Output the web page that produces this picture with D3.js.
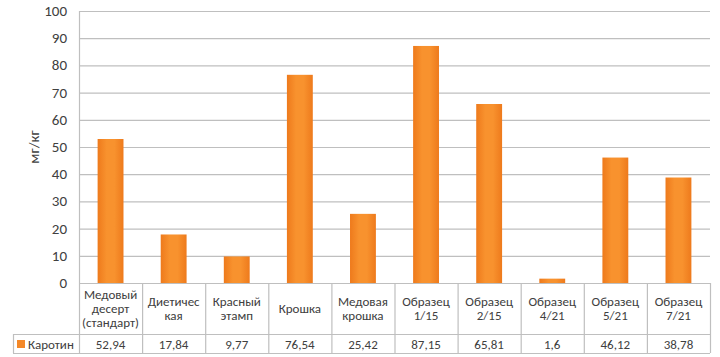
<!DOCTYPE html>
<html>
<head>
<meta charset="utf-8">
<script src="https://cdn.jsdelivr.net/npm/d3@7"></script>
<style>
  body { margin: 0; background: #fff; }
  svg { display: block; font-family: Calibri, Carlito, Lato, sans-serif; }
</style>
</head>
<body>
<svg id="chart" width="720" height="357"></svg>
<script>
const categories = [
    ['Медовый', 'десерт', '(стандарт)'],
    ['Диетичес', 'кая'],
    ['Красный', 'этамп'],
    ['Крошка'],
    ['Медовая', 'крошка'],
    ['Образец', '1/15'],
    ['Образец', '2/15'],
    ['Образец', '4/21'],
    ['Образец', '5/21'],
    ['Образец', '7/21']
];
const values = [52.94, 17.84, 9.77, 76.54, 25.42, 87.15, 65.81, 1.6, 46.12, 38.78];
const valueLabels = ['52,94', '17,84', '9,77', '76,54', '25,42', '87,15', '65,81', '1,6', '46,12', '38,78'];
const seriesName = 'Каротин';
const yTicks = [0, 10, 20, 30, 40, 50, 60, 70, 80, 90, 100];

const svg = d3.select('#chart');
const plotLeft = 79, plotRight = 710, plotTop = 11, plotBottom = 283;
const catRowBottom = 334, valRowBottom = 353, legendLeft = 13;
const textColor = '#404040';
const gridColor = '#BFBFBF';

const x = d3.scaleBand()
    .domain(d3.range(categories.length))
    .range([plotLeft, plotRight])
    .paddingInner(0)
    .paddingOuter(0);

const y = d3.scaleLinear()
    .domain([0, 100])
    .range([plotBottom, plotTop]);

const defs = svg.append('defs');
const grad = defs.append('linearGradient')
    .attr('id', 'barGrad')
    .attr('x1', '0%').attr('x2', '100%')
    .attr('y1', '0%').attr('y2', '0%');
grad.append('stop').attr('offset', '0%').attr('stop-color', '#EE7A1C');
grad.append('stop').attr('offset', '35%').attr('stop-color', '#F8922E');
grad.append('stop').attr('offset', '65%').attr('stop-color', '#F8922E');
grad.append('stop').attr('offset', '100%').attr('stop-color', '#EE7A1C');

// gridlines
svg.append('g')
    .selectAll('line')
    .data(yTicks.filter(d => d > 0))
    .enter()
    .append('line')
    .attr('x1', plotLeft)
    .attr('x2', plotRight)
    .attr('y1', d => y(d) + 0.5)
    .attr('y2', d => y(d) + 0.5)
    .attr('stroke', gridColor)
    .attr('stroke-width', 1.2);

// y axis labels
svg.append('g')
    .selectAll('text')
    .data(yTicks)
    .enter()
    .append('text')
    .attr('x', 67)
    .attr('y', d => y(d) + 5)
    .attr('text-anchor', 'end')
    .attr('font-size', '15px')
    .attr('fill', textColor)
    .text(d => d);

svg.append('text')
    .attr('transform', `translate(39,147) rotate(-90)`)
    .attr('text-anchor', 'middle')
    .attr('font-size', '15px')
    .attr('fill', textColor)
    .text('мг/кг');

// bars
const barW = x.bandwidth() * 0.41;
svg.append('g')
    .selectAll('rect')
    .data(values)
    .enter()
    .append('rect')
    .attr('x', (d, i) => x(i) + (x.bandwidth() - barW) / 2)
    .attr('y', d => y(d))
    .attr('width', barW)
    .attr('height', d => plotBottom - y(d))
    .attr('fill', 'url(#barGrad)');

// data table
const table = svg.append('g')
    .attr('stroke', gridColor)
    .attr('stroke-width', 1.2);

table.append('line')
    .attr('x1', plotLeft).attr('x2', plotRight)
    .attr('y1', plotBottom + 0.5).attr('y2', plotBottom + 0.5);
table.append('line')
    .attr('x1', legendLeft).attr('x2', plotRight)
    .attr('y1', catRowBottom + 0.5).attr('y2', catRowBottom + 0.5);
table.append('line')
    .attr('x1', legendLeft).attr('x2', plotRight)
    .attr('y1', valRowBottom + 0.5).attr('y2', valRowBottom + 0.5);
table.append('line')
    .attr('x1', legendLeft + 0.5).attr('x2', legendLeft + 0.5)
    .attr('y1', catRowBottom).attr('y2', valRowBottom);
table.append('line')
    .attr('x1', plotLeft + 0.5).attr('x2', plotLeft + 0.5)
    .attr('y1', plotTop).attr('y2', valRowBottom);
table.selectAll('.vsep')
    .data(d3.range(categories.length))
    .enter()
    .append('line')
    .attr('class', 'vsep')
    .attr('x1', i => x(i) + x.bandwidth() + 0.5)
    .attr('x2', i => x(i) + x.bandwidth() + 0.5)
    .attr('y1', plotBottom)
    .attr('y2', valRowBottom);

// category labels
const catText = svg.append('g')
    .selectAll('text')
    .data(categories)
    .enter()
    .append('text')
    .attr('text-anchor', 'middle')
    .attr('font-size', '13px')
    .attr('fill', textColor)
    .attr('x', (d, i) => x(i) + x.bandwidth() / 2);

const lineH = 14;
catText.each(function(lines) {
    const startY = (plotBottom + catRowBottom) / 2 - (lines.length - 1) * lineH / 2 + 4.5;
    const cx = d3.select(this).attr('x');
    d3.select(this).selectAll('tspan')
        .data(lines)
        .enter()
        .append('tspan')
        .attr('x', cx)
        .attr('y', (l, j) => startY + j * lineH)
        .text(l => l);
});

// value row
svg.append('g')
    .selectAll('text')
    .data(valueLabels)
    .enter()
    .append('text')
    .attr('x', (d, i) => x(i) + x.bandwidth() / 2)
    .attr('y', (catRowBottom + valRowBottom) / 2 + 5)
    .attr('text-anchor', 'middle')
    .attr('font-size', '13px')
    .attr('fill', textColor)
    .text(d => d);

// legend key
svg.append('rect')
    .attr('x', legendLeft + 4)
    .attr('y', (catRowBottom + valRowBottom) / 2 - 3.5)
    .attr('width', 8)
    .attr('height', 8)
    .attr('fill', '#F48828');
svg.append('text')
    .attr('x', legendLeft + 15)
    .attr('y', (catRowBottom + valRowBottom) / 2 + 5)
    .attr('font-size', '13px')
    .attr('fill', textColor)
    .text(seriesName);
</script>
</body>
</html>
